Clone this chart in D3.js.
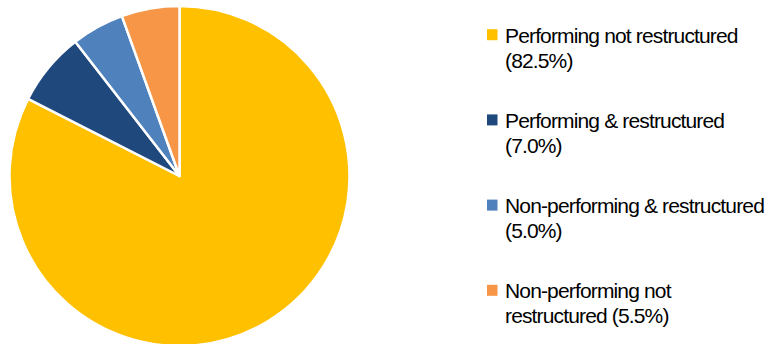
<!DOCTYPE html>
<html>
<head>
<meta charset="utf-8">
<script src="https://cdn.jsdelivr.net/npm/d3@7"></script>
<style>
  html, body { margin: 0; padding: 0; background: #fff; }
  svg { display: block; }
</style>
</head>
<body>
<div id="chart"></div>
<script>
// ---- DATA ----
const categories = [
    "Performing not restructured",
    "Performing & restructured",
    "Non-performing & restructured",
    "Non-performing not restructured"
];
const shares = [82.5, 7.0, 5.0, 5.5];
const legendLines = [
    ["Performing not restructured", "(82.5%)"],
    ["Performing & restructured", "(7.0%)"],
    ["Non-performing & restructured", "(5.0%)"],
    ["Non-performing not", "restructured (5.5%)"]
];
const colors = ["#FFC000", "#1F497D", "#4F81BD", "#F79646"];

const width = 768, height = 344;

const svg = d3.select("#chart").append("svg")
    .attr("width", width)
    .attr("height", height);

// ---- PIE ----
const data = categories.map((c, i) => ({ name: c, value: shares[i], color: colors[i] }));

const pie = d3.pie()
    .value(d => d.value)
    .sort(null);

const arc = d3.arc()
    .innerRadius(0)
    .outerRadius(170);

const g = svg.append("g")
    .attr("transform", "translate(179.5,176)");

g.selectAll("path")
    .data(pie(data))
    .enter()
    .append("path")
    .attr("d", arc)
    .attr("fill", d => d.data.color)
    .attr("stroke", "#fff")
    .attr("stroke-width", 2.5)
    .attr("stroke-linejoin", "round");

// ---- LEGEND ----
const legend = svg.append("g")
    .attr("transform", "translate(487,0)");

const item = legend.selectAll(".item")
    .data(data)
    .enter()
    .append("g")
    .attr("class", "item")
    .attr("transform", (d, i) => `translate(0,${42.7 + i * 85.2})`);

item.append("rect")
    .attr("x", 0)
    .attr("y", -13.5)
    .attr("width", 10.5)
    .attr("height", 11)
    .attr("fill", d => d.color);

item.each(function(d, i) {
    const t = d3.select(this).append("text")
        .attr("font-family", "Liberation Sans, Arial, sans-serif")
        .attr("font-size", "21px")
        .attr("letter-spacing", "-0.85px")
        .attr("fill", "#000");
    legendLines[i].forEach((line, j) => {
        t.append("tspan")
            .attr("x", 18)
            .attr("y", j * 25)
            .text(line);
    });
});
</script>
</body>
</html>
